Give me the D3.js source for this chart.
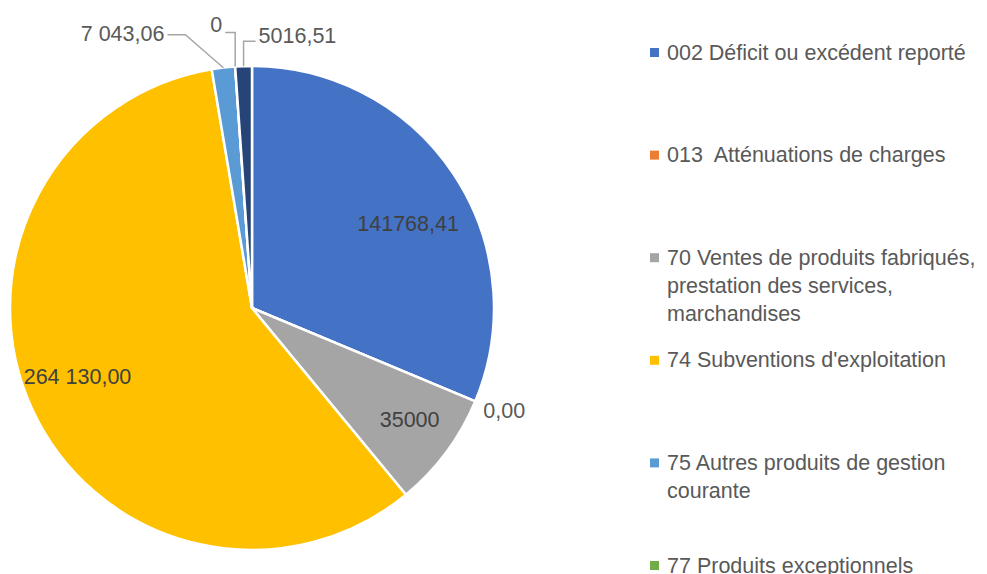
<!DOCTYPE html>
<html>
<head>
<meta charset="utf-8">
<script src="https://cdn.jsdelivr.net/npm/d3@7"></script>
<style>
  body { margin: 0; background: #fff; overflow: hidden; }
  text { font-family: 'Liberation Sans', Arial, sans-serif; fill: #595959; white-space: pre; }
</style>
</head>
<body>
<div id="chart"></div>
<script>
// data
const codes = ['002', '013', '70', '74', '75', '77', '78'];
const labels = [
  ['002 Déficit ou excédent reporté'],
  ['013  Atténuations de charges'],
  ['70 Ventes de produits fabriqués,', 'prestation des services,', 'marchandises'],
  ['74 Subventions d\'exploitation'],
  ['75 Autres produits de gestion', 'courante'],
  ['77 Produits exceptionnels'],
  ['78 Reprises sur amortissements et provisions'],
];
const values = [141768.41, 0, 35000, 264130, 7043.06, 0, 5016.51];
const valueLabels = ['141768,41', '0,00', '35000', '264 130,00', '7 043,06', '0', '5016,51'];
const colors = ['#4472C4', '#ED7D31', '#A5A5A5', '#FFC000', '#5B9BD5', '#70AD47', '#264478'];

{
  const width = 987;
  const height = 574;
  const cx = 252;
  const cy = 308;
  const radius = 242;
  const fontSize = '21.5px';

  const svg = d3.select('#chart')
    .append('svg')
    .attr('width', width)
    .attr('height', height);

  const data = codes.map((code, i) => ({
    code,
    value: values[i],
    text: valueLabels[i],
    color: colors[i],
    lines: labels[i],
  }));

  const pie = d3.pie()
    .sort(null)
    .value(d => d.value);

  const arcs = pie(data);

  const arc = d3.arc()
    .innerRadius(0)
    .outerRadius(radius);

  const labelArc = d3.arc()
    .innerRadius(radius * 0.77)
    .outerRadius(radius * 0.77);

  const edgeArc = d3.arc()
    .innerRadius(radius)
    .outerRadius(radius);

  const g = svg.append('g')
    .attr('transform', `translate(${cx},${cy})`);

  g.selectAll('path.slice')
    .data(arcs)
    .enter()
    .append('path')
    .attr('class', 'slice')
    .attr('d', arc)
    .attr('fill', d => d.data.color)
    .attr('stroke', '#fff')
    .attr('stroke-width', 2.5)
    .attr('stroke-linejoin', 'round');

  // labels inside the big slices (Excel nudges them a little off the centroid)
  const nudge = { '002': [1, 19], '70': [8, 0], '74': [-5, -9] };
  const inside = arcs.filter(d => d.value > 20000);
  g.selectAll('text.inside')
    .data(inside)
    .enter()
    .append('text')
    .attr('class', 'inside')
    .attr('transform', (d) => {
      const [x, y] = labelArc.centroid(d);
      const n = nudge[d.data.code] || [0, 0];
      return `translate(${x + n[0]},${y + n[1]})`;
    })
    .attr('text-anchor', 'middle')
    .attr('dy', '0.35em')
    .style('font-size', fontSize)
    .style('fill', '#404040')
    .text(d => d.data.text);

  // outside labels, elbow leader lines for the thin slices at the top
  const callouts = {
    '75': { elbow: [-38, -33], end: [-56, -33], anchor: 'end', shift: -1 },
    '77': { elbow: [0, -34], end: [-10, -34], anchor: 'end', shift: -8 },
    '78': { elbow: [0, -25], end: [12, -25], anchor: 'start', shift: -6 },
  };

  arcs.filter(d => d.value <= 20000).forEach((d) => {
    const p = edgeArc.centroid(d);
    const c = callouts[d.data.code];
    if (!c) {
      g.append('text')
        .attr('x', p[0] + 8)
        .attr('y', p[1] + 9)
        .attr('dy', '0.35em')
        .style('font-size', fontSize)
        .text(d.data.text);
      return;
    }
    const elbow = [p[0] + c.elbow[0], p[1] + c.elbow[1]];
    const end = [p[0] + c.end[0], p[1] + c.end[1]];
    g.append('polyline')
      .attr('points', [p, elbow, end].map(q => q.join(',')).join(' '))
      .attr('fill', 'none')
      .attr('stroke', '#A6A6A6')
      .attr('stroke-width', 1.5);
    g.append('text')
      .attr('x', end[0] + (c.anchor === 'end' ? -3 : 3))
      .attr('y', end[1] + c.shift)
      .attr('dy', '0.35em')
      .attr('text-anchor', c.anchor)
      .style('font-size', fontSize)
      .text(d.data.text);
  });

  // legend
  const legend = svg.append('g')
    .attr('class', 'legend')
    .selectAll('g')
    .data(data)
    .enter()
    .append('g')
    .attr('transform', (d, i) => `translate(650,${52 + (i * 102.6)})`);

  legend.append('rect')
    .attr('x', 0)
    .attr('y', -4)
    .attr('width', 9)
    .attr('height', 9)
    .attr('fill', d => d.color);

  legend.append('text')
    .attr('x', 17)
    .attr('y', 0)
    .style('font-size', fontSize)
    .selectAll('tspan')
    .data(d => d.lines)
    .enter()
    .append('tspan')
    .attr('x', 17)
    .attr('dy', (d, i) => (i === 0 ? '0.35em' : '28px'))
    .text(d => d);
}
</script>
</body>
</html>
